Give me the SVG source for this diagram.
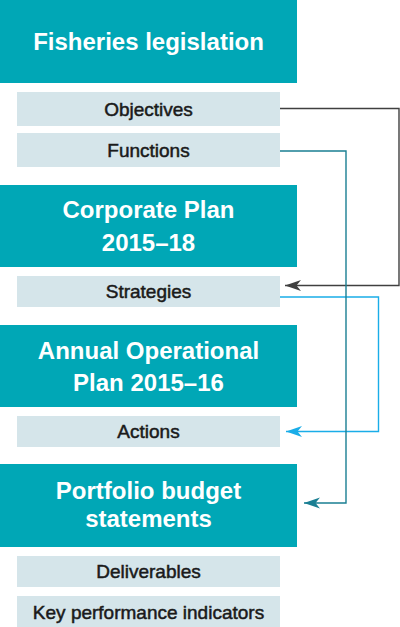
<svg xmlns="http://www.w3.org/2000/svg" width="400" height="627" viewBox="0 0 400 627">
<defs>
<style>
.head{fill:#00a7b6}
.sub{fill:#d5e5ea}
.ht{font-family:"Liberation Sans",Arial,sans-serif;font-weight:bold;font-size:24px;fill:#ffffff;text-anchor:middle}
.st{font-family:"Liberation Sans",Arial,sans-serif;font-size:19px;fill:#1a1a1a;stroke:#1a1a1a;stroke-width:0.5;text-anchor:middle}
.c{fill:none;stroke-width:1.4}
</style>
<marker id="aGray" markerUnits="userSpaceOnUse" markerWidth="17" markerHeight="12" refX="16" refY="5.5" orient="auto"><path d="M0,0 L16,5.5 L0,11 L4.5,5.5 Z" fill="#404040"/></marker>
<marker id="aTeal" markerUnits="userSpaceOnUse" markerWidth="17" markerHeight="12" refX="16" refY="5.5" orient="auto"><path d="M0,0 L16,5.5 L0,11 L4.5,5.5 Z" fill="#1a7f93"/></marker>
<marker id="aBlue" markerUnits="userSpaceOnUse" markerWidth="17" markerHeight="12" refX="16" refY="5.5" orient="auto"><path d="M0,0 L16,5.5 L0,11 L4.5,5.5 Z" fill="#1aade8"/></marker>
</defs>
<rect width="400" height="627" fill="#ffffff"/>
<g id="fisheries-legislation"><rect class="head" x="0" y="0" width="297" height="83"/><text class="ht" x="148.5" y="50">Fisheries legislation</text></g>
<g id="objectives"><rect class="sub" x="17" y="92" width="263" height="34"/><text class="st" x="148.5" y="116">Objectives</text></g>
<g id="functions"><rect class="sub" x="17" y="133" width="263" height="34"/><text class="st" x="148.5" y="157">Functions</text></g>
<g id="corporate-plan"><rect class="head" x="0" y="185" width="297" height="82"/><text class="ht" x="148.5" y="218">Corporate Plan</text><text class="ht" x="148.5" y="251">2015–18</text></g>
<g id="strategies"><rect class="sub" x="17" y="276" width="263" height="31"/><text class="st" x="148.5" y="298">Strategies</text></g>
<g id="annual-operational-plan"><rect class="head" x="0" y="325" width="297" height="82"/><text class="ht" x="148.5" y="359">Annual Operational</text><text class="ht" x="148.5" y="391">Plan 2015–16</text></g>
<g id="actions"><rect class="sub" x="17" y="416" width="263" height="31"/><text class="st" x="148.5" y="438">Actions</text></g>
<g id="portfolio-budget-statements"><rect class="head" x="0" y="464" width="297" height="83"/><text class="ht" x="148.5" y="499">Portfolio budget</text><text class="ht" x="148.5" y="526.5">statements</text></g>
<g id="deliverables"><rect class="sub" x="17" y="556" width="263" height="31"/><text class="st" x="148.5" y="578">Deliverables</text></g>
<g id="kpi"><rect class="sub" x="17" y="596" width="263" height="35"/><text class="st" x="148.5" y="618.5">Key performance indicators</text></g>
<g id="connectors">
<path class="c" d="M280,108.5 H399 V285.5 H285" stroke="#404040" marker-end="url(#aGray)"/>
<path class="c" d="M280,297 H378.5 V431.5 H286" stroke="#1aade8" marker-end="url(#aBlue)"/>
<path class="c" d="M280,151 H346 V503 H304" stroke="#1a7f93" marker-end="url(#aTeal)"/>
</g>
</svg>
